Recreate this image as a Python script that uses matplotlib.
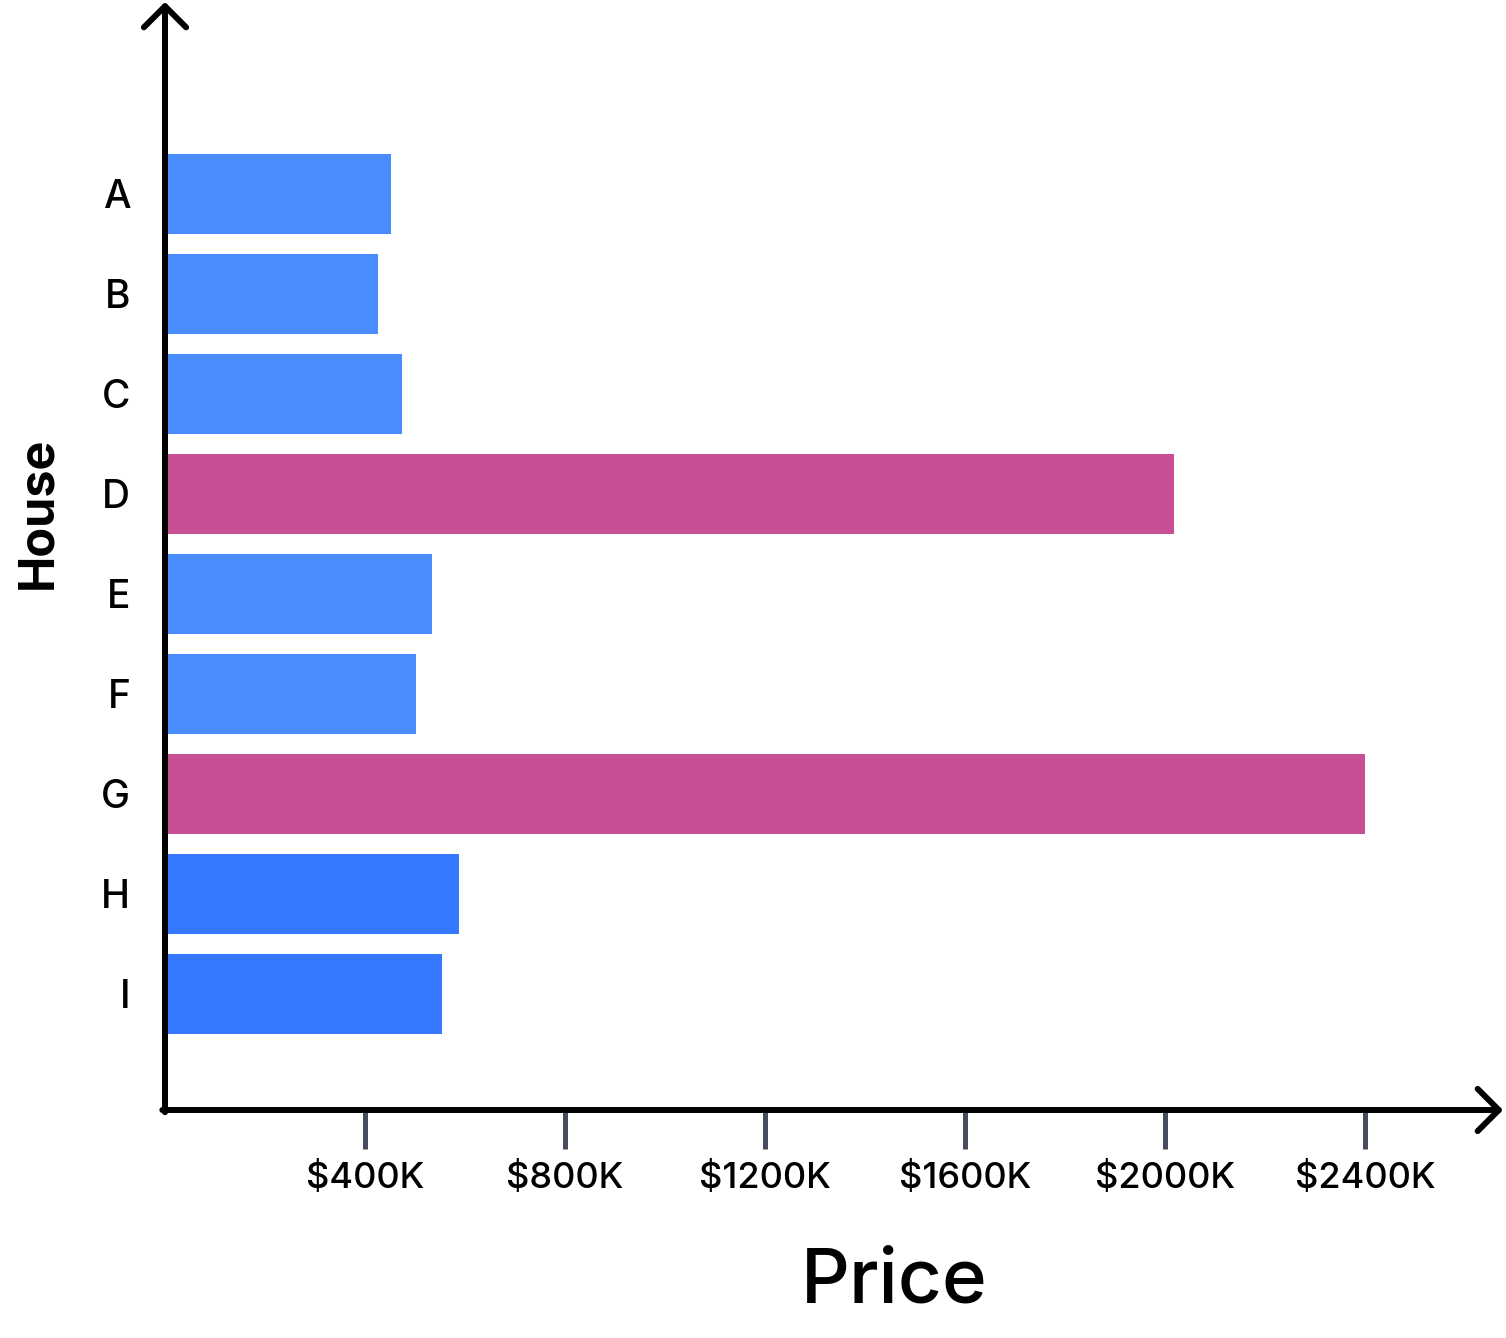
import matplotlib.pyplot as plt

# House prices in $K
houses = ['A', 'B', 'C', 'D', 'E', 'F', 'G', 'H', 'I']
prices = [452, 425, 473, 2017, 533, 501, 2400, 588, 553]
colors = ['#488cff', '#488cff', '#488cff', '#c94f95', '#488cff',
          '#488cff', '#c94f95', '#3479ff', '#3479ff']
xticks = [400, 800, 1200, 1600, 2000, 2400]
xtick_labels = ['$400K', '$800K', '$1200K', '$1600K', '$2000K', '$2400K']

plt.rcParams['font.family'] = ['Inter', 'DejaVu Sans']

W, H = 1506, 1338
fig = plt.figure(figsize=(W / 100, H / 100), dpi=100)
left, right, top, bottom = 165, 1503, 2, 1110
ax = fig.add_axes([left / W, (H - bottom) / H, (right - left) / W, (bottom - top) / H])

ypos = list(range(len(houses)))
ax.barh(ypos, prices, height=0.8, color=colors)

ax.set_xlim(0, (right - left) * 2)
ax.set_ylim(8 + (bottom - 994) / 100, -(194 - top) / 100)

for s in ax.spines.values():
    s.set_visible(False)

arrow = dict(arrowstyle='->,head_length=0.38,head_width=0.38', lw=4.3,
             color='black', mutation_scale=40, capstyle='round',
             shrinkA=0, shrinkB=0)
ax.annotate('', xy=(1, 0), xytext=(-0.002, 0), xycoords='axes fraction',
            arrowprops=arrow, annotation_clip=False)
ax.annotate('', xy=(0, 1), xytext=(0, -0.002), xycoords='axes fraction',
            arrowprops=arrow, annotation_clip=False)

ax.set_xticks(xticks)
ax.set_xticklabels(xtick_labels, fontsize=26, fontweight='medium')
ax.tick_params(axis='x', direction='out', length=28, width=3.6,
               color='#474b5e', pad=9)
ax.set_yticks(ypos)
ax.set_yticklabels(houses, fontsize=28, fontweight='medium')
ax.tick_params(axis='y', length=0, pad=25)

ax.set_xlabel('Price', fontsize=55, fontweight='medium')
ax.xaxis.set_label_coords((894 - left) / (right - left), -(1283 - bottom) / (bottom - top))
ax.xaxis.label.set_va('center')
ax.set_ylabel('House', fontsize=35, fontweight='bold')
ax.yaxis.set_label_coords(-(165 - 38) / (right - left), (bottom - 513) / (bottom - top))
ax.yaxis.label.set_va('center')

fig.savefig('out.png', dpi=100)
